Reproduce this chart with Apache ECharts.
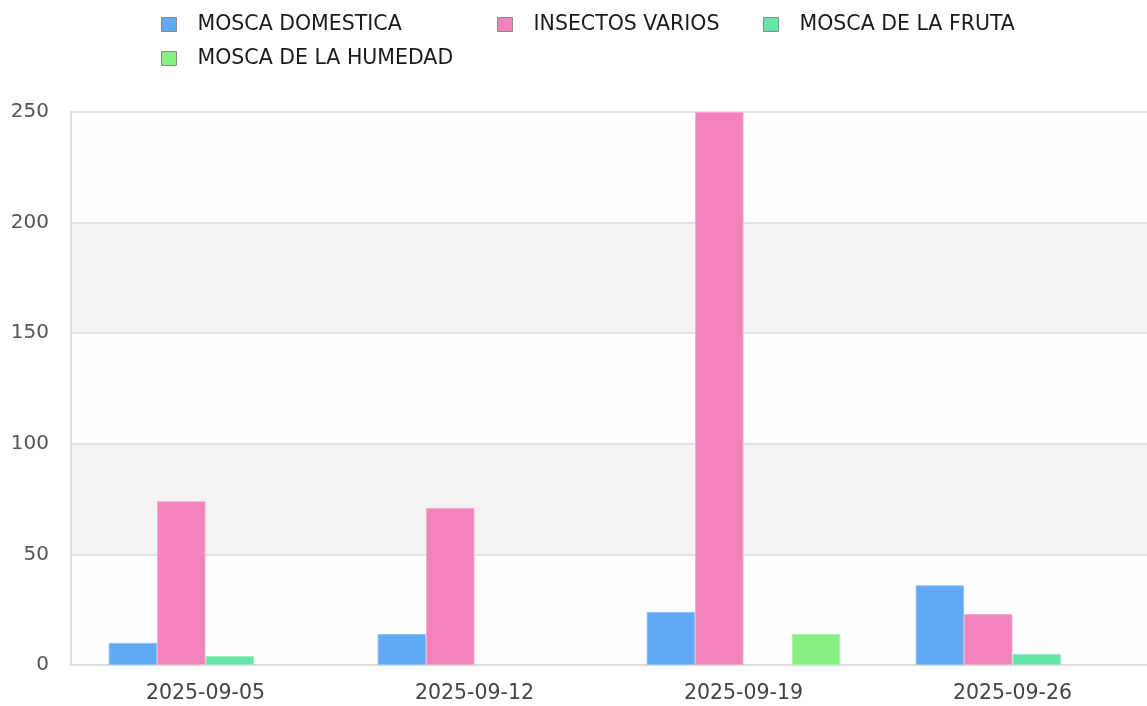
<!DOCTYPE html>
<html>
<head>
<meta charset="utf-8">
<script src="https://cdn.jsdelivr.net/npm/echarts@6/dist/echarts.min.js"></script>
<style>html,body{margin:0;padding:0;background:#fff}#c{width:1147px;height:706px}</style>
</head>
<body>
<div id="c"></div>
<script>
const categories = ['2025-09-05', '2025-09-12', '2025-09-19', '2025-09-26'];
const seriesNames = ['MOSCA DOMESTICA', 'INSECTOS VARIOS', 'MOSCA DE LA FRUTA', 'MOSCA DE LA HUMEDAD'];
const moscaDomestica = [10, 14, 24, 36];
const insectosVarios = [74, 71, 250, 23];
const moscaFruta = [4, null, null, 5];
const moscaHumedad = [null, null, 14, null];
const yTicks = [0, 50, 100, 150, 200, 250];

const colors = ['#62a9f3', '#f283ba', '#66e5a8', '#87ee82'];
const borders = ['#8cc0f6', '#f7a9cf', '#93edc2', '#aaf3a7'];
const values = [moscaDomestica, insectosVarios, moscaFruta, moscaHumedad];

const legendPos = [[161, 14], [497, 14], [763, 14], [161, 48]];
const font = 'DejaVu Sans';

const chart = echarts.init(document.getElementById('c'), null, {renderer: 'canvas'});
chart.setOption({
  animation: false,
  color: colors,
  legend: seriesNames.map((n, i) => ({
    data: [n],
    left: legendPos[i][0],
    top: legendPos[i][1],
    padding: 0,
    icon: 'rect',
    itemWidth: 15,
    itemHeight: 14,
    itemStyle: {borderColor: '#8a8a8a', borderWidth: 1},
    textStyle: {fontFamily: font, fontSize: 20.5, color: '#1a1a1a', padding: [0, 0, 0, 16]},
    selectedMode: false
  })),
  grid: {left: 71, right: -3, top: 112, bottom: 41, containLabel: false},
  xAxis: {
    type: 'category',
    data: categories,
    axisLine: {show: true, lineStyle: {color: '#dcdcdc', width: 2}},
    axisTick: {show: false},
    axisLabel: {fontFamily: font, fontSize: 20.5, color: '#444', margin: 18}
  },
  yAxis: {
    type: 'value',
    min: yTicks[0],
    max: yTicks[yTicks.length - 1],
    interval: 50,
    axisLine: {show: true, lineStyle: {color: '#dcdcdc', width: 2}},
    axisTick: {show: false},
    axisLabel: {fontFamily: font, fontSize: 20, color: '#555', margin: 22},
    splitLine: {show: true, lineStyle: {color: '#e2e2e2', width: 2}},
    splitArea: {show: true, areaStyle: {color: ['#fefefe', '#f3f3f3']}}
  },
  series: seriesNames.map((n, i) => ({
    name: n,
    type: 'bar',
    data: values[i],
    barGap: '0%',
    barCategoryGap: '28%',
    itemStyle: {color: colors[i], borderColor: borders[i], borderWidth: 1}
  }))
});
</script>
</body>
</html>
